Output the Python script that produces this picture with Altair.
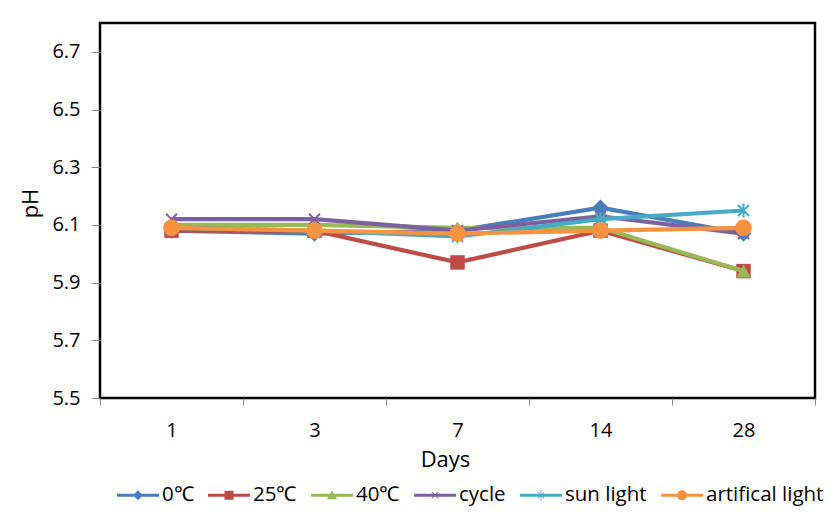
import math
import altair as alt
import pandas as pd

days = ["1", "3", "7", "14", "28"]
series_names = ["0℃", "25℃", "40℃", "cycle", "sun light", "artifical light"]
v_0c = [6.08, 6.07, 6.08, 6.16, 6.07]
v_25c = [6.08, 6.08, 5.97, 6.08, 5.94]
v_40c = [6.10, 6.10, 6.09, 6.09, 5.94]
v_cycle = [6.12, 6.12, 6.08, 6.13, 6.07]
v_sun = [6.09, 6.08, 6.06, 6.12, 6.15]
v_art = [6.09, 6.08, 6.07, 6.08, 6.09]
y_ticks = [5.5, 5.7, 5.9, 6.1, 6.3, 6.5, 6.7]

all_values = [v_0c, v_25c, v_40c, v_cycle, v_sun, v_art]
rows = []
for name, vals in zip(series_names, all_values):
    for d, v in zip(days, vals):
        rows.append({"series": name, "day": d, "ph": v})
df = pd.DataFrame(rows)

colors = ["#4A7EBB", "#BE4B48", "#98B954", "#7D60A0", "#46AAC5", "#F69240"]

X_PATH = "M-1,-1L1,1M-1,1L1,-1"
STAR_PATH = "M-1,-1L1,1M-1,1L1,-1M0,-1.3L0,1.3"
# (shape, size, filled)
marker_specs = [
    ("diamond", 260, True),
    ("square", 210, True),
    ("triangle-up", 220, True),
    (X_PATH, 120, False),
    (STAR_PATH, 120, False),
    ("circle", 280, True),
]

# legend symbol paths: line segment + marker, in [-1,1] units
LINE = "M-1,-0.07L1,-0.07L1,0.07L-1,0.07Z"


def arm(angle_deg, a, t):
    ang = math.radians(angle_deg)
    ux, uy = math.cos(ang), math.sin(ang)
    nx, ny = -uy, ux
    pts = [(a * ux + t * nx, a * uy + t * ny), (-a * ux + t * nx, -a * uy + t * ny),
           (-a * ux - t * nx, -a * uy - t * ny), (a * ux - t * nx, a * uy - t * ny)]
    return "M" + "L".join(f"{x:.3f},{y:.3f}" for x, y in pts) + "Z"


m = 0.24
legend_paths = [
    LINE + f"M0,-{m}L{m},0L0,{m}L-{m},0Z",
    LINE + f"M-{m*0.9},-{m*0.9}L{m*0.9},-{m*0.9}L{m*0.9},{m*0.9}L-{m*0.9},{m*0.9}Z",
    LINE + f"M0,-{m}L{m},{m*0.8}L-{m},{m*0.8}Z",
    LINE + arm(45, 0.22, 0.02) + arm(135, 0.22, 0.02),
    LINE + arm(45, 0.22, 0.02) + arm(135, 0.22, 0.02) + arm(90, 0.25, 0.02),
    LINE + f"M-{m},0A{m},{m} 0 1,1 {m},0A{m},{m} 0 1,1 -{m},0Z",
]

FONT = "Open Sans"

x_enc = alt.X(
    "day:N",
    sort=days,
    bandPosition=0.5,
    scale=alt.Scale(type="band", paddingInner=0, paddingOuter=0),
    axis=alt.Axis(
        title="Days", labelAngle=0, tickBand="extent", domain=False,
        tickSize=7, tickColor="#868686", tickWidth=1, labelPadding=15,
        labelFont=FONT, labelFontSize=20, labelColor="#000000",
        titleFont=FONT, titleFontSize=22, titleFontWeight="normal", titleColor="#000000",
        titleX=345, titleY=61, titleBaseline="middle", titleAlign="center",
    ),
)
y_enc = alt.Y(
    "ph:Q",
    scale=alt.Scale(domain=[5.5, 6.8], nice=False, zero=False),
    axis=alt.Axis(
        title="pH", values=y_ticks, format=".1f", grid=False, domain=False,
        tickSize=9, tickColor="#868686", tickWidth=1, labelPadding=11,
        labelFont=FONT, labelFontSize=20, labelColor="#000000",
        titleFont=FONT, titleFontSize=22, titleFontWeight="normal", titleColor="#000000",
        titleX=-70, titleY=180, titleBaseline="middle", titleAlign="center", titleAngle=-90,
    ),
)

layers = []
for name, color, (shape, size, filled) in zip(series_names, colors, marker_specs):
    base = alt.Chart(df).transform_filter(alt.datum.series == name)
    layers.append(base.mark_line(color=color, strokeWidth=4.2).encode(x=x_enc, y=y_enc))
    layers.append(
        base.mark_point(shape=shape, size=size, filled=filled, color=color,
                        opacity=1, strokeWidth=2).encode(x=x_enc, y=y_enc)
    )

leg = alt.Legend(
    title=None, orient="none", direction="horizontal", columns=6,
    legendX=17, legendY=451, symbolSize=1764, symbolStrokeWidth=0,
    labelFont=FONT, labelFontSize=20.5, labelColor="#000000", labelOffset=3,
    columnPadding=14, symbolOpacity=1,
)
legend_layer = alt.Chart(df).transform_filter("false").mark_point(
    filled=True, opacity=1
).encode(
    x=x_enc, y=y_enc,
    color=alt.Color("series:N", scale=alt.Scale(domain=series_names, range=colors), legend=leg),
    shape=alt.Shape("series:N", scale=alt.Scale(domain=series_names, range=legend_paths), legend=leg),
)
layers.append(legend_layer)

chart = alt.layer(*layers).properties(
    width=715, height=375,
    padding={"left": 100, "top": 23, "right": 23, "bottom": 119},
    autosize=alt.AutoSizeParams(type="none"),
    background="white",
).configure_view(stroke="#000000", strokeWidth=2.5)

chart.save("out.html", embed_options={"renderer": "svg", "actions": False})
